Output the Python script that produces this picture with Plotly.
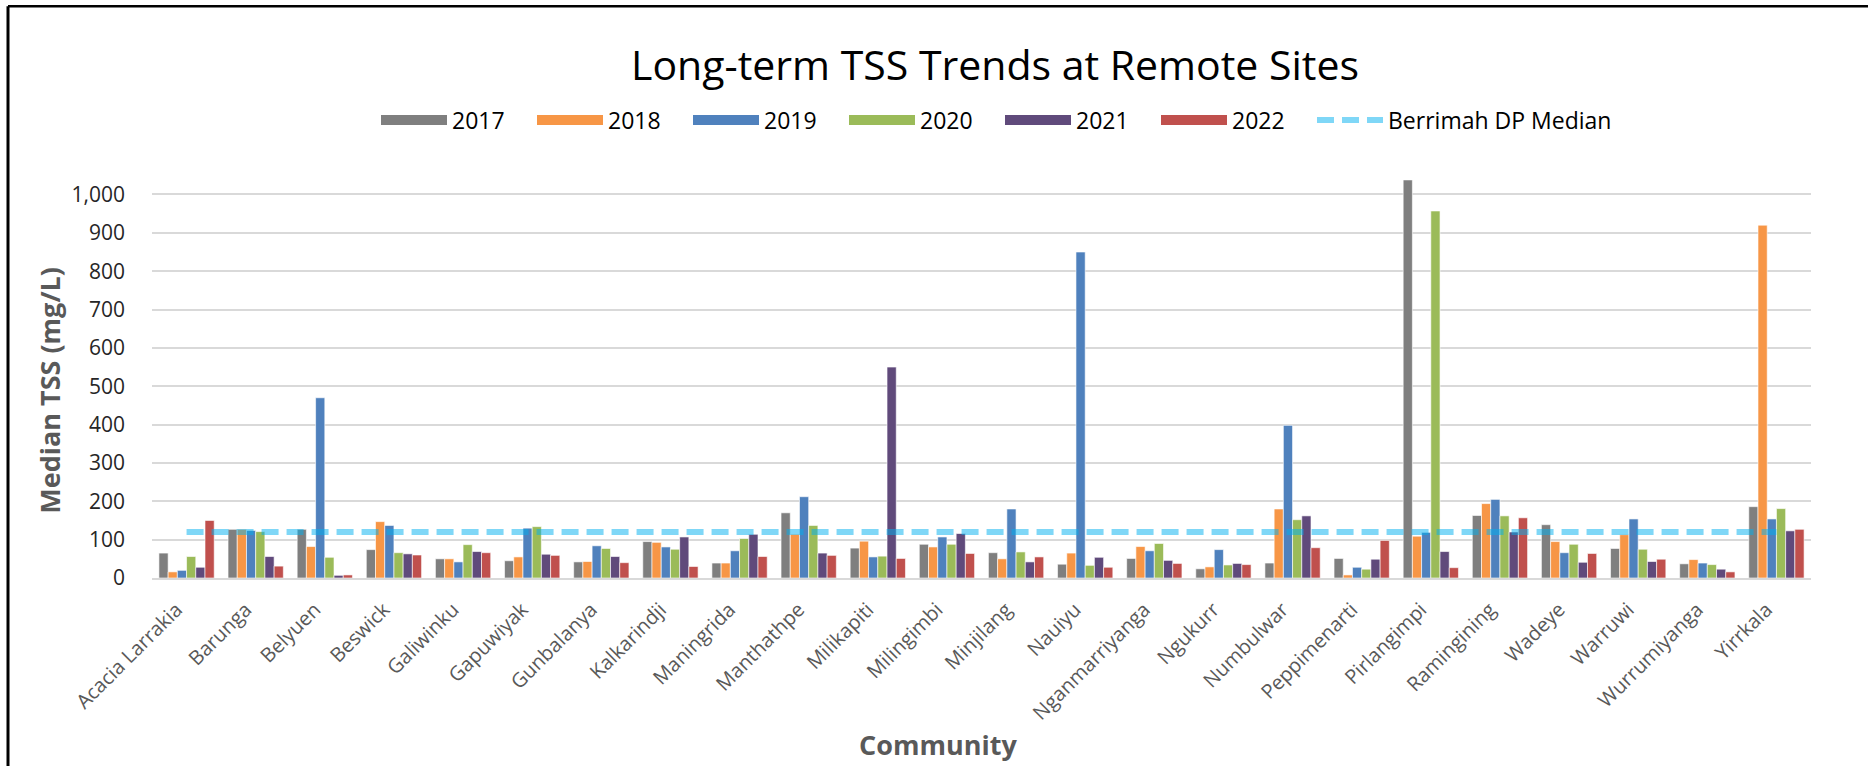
import plotly.graph_objects as go

communities = ["Acacia Larrakia", "Barunga", "Belyuen", "Beswick", "Galiwinku", "Gapuwiyak",
               "Gunbalanya", "Kalkarindji", "Maningrida", "Manthathpe", "Milikapiti", "Milingimbi",
               "Minjilang", "Nauiyu", "Nganmarriyanga", "Ngukurr", "Numbulwar", "Peppimenarti",
               "Pirlangimpi", "Ramingining", "Wadeye", "Warruwi", "Wurrumiyanga", "Yirrkala"]

tss_2017 = [65, 127, 127, 74, 50, 45, 42, 95, 39, 170, 78, 88, 66, 36, 51, 24, 39, 51, 1038, 163, 139, 77, 37, 186]
tss_2018 = [16, 127, 82, 147, 50, 55, 43, 93, 39, 114, 96, 81, 50, 65, 82, 29, 180, 8, 109, 194, 95, 113, 48, 920]
tss_2019 = [20, 124, 470, 137, 42, 130, 84, 81, 71, 212, 55, 107, 180, 850, 71, 74, 398, 28, 119, 205, 66, 154, 39, 154]
tss_2020 = [56, 121, 54, 66, 87, 134, 77, 75, 103, 137, 57, 88, 68, 33, 90, 34, 152, 23, 957, 162, 88, 75, 35, 181]
tss_2021 = [28, 56, 7, 63, 69, 62, 56, 107, 114, 65, 550, 116, 42, 54, 46, 38, 162, 49, 69, 120, 41, 43, 23, 123]
tss_2022 = [150, 31, 8, 60, 66, 59, 40, 30, 56, 59, 51, 64, 55, 28, 38, 35, 79, 98, 27, 157, 64, 49, 16, 127]
berrimah_dp_median = 120

years = ["2017", "2018", "2019", "2020", "2021", "2022"]
series = [tss_2017, tss_2018, tss_2019, tss_2020, tss_2021, tss_2022]
colors = ["#7F7F7F", "#F79646", "#4F81BD", "#9BBB59", "#604A7B", "#C0504D"]

FONT = "Open Sans"

fig = go.Figure()
for name, vals, col in zip(years, series, colors):
    fig.add_trace(go.Bar(x=communities, y=vals, name=name, legendgroup=name, showlegend=False,
                         marker=dict(color=col, line=dict(color="rgba(255,255,255,0.6)", width=1))))
# legend keys: wide rectangular swatches like the original legend
for name, col in zip(years, colors):
    fig.add_trace(go.Scatter(x=[None], y=[None], name=name, legendgroup=name, mode="lines",
                             line=dict(color=col, width=16), hoverinfo="skip"))

fig.add_trace(go.Scatter(x=communities, y=[berrimah_dp_median] * len(communities),
                         name="Berrimah DP Median", mode="lines", legendwidth=240,
                         line=dict(color="rgba(0,176,240,0.5)", width=6, dash="17px,8px")))

L, R, T, B = 152, 57, 177, 187.5
W, H = 1868, 766
pw = W - L - R
ph = H - T - B

def px_x(x):
    return (x - L) / pw

def px_y(y):
    return (H - B - y) / ph

fig.update_layout(
    width=W, height=H,
    margin=dict(l=L, r=R, t=T, b=B, pad=0),
    paper_bgcolor="white", plot_bgcolor="white",
    barmode="group", bargap=0.2, bargroupgap=0,
    font=dict(family=FONT, color="#262626"),
    title=dict(text="Long-term TSS Trends at Remote Sites", x=995 / W, xanchor="center",
               y=1 - 66 / H, yanchor="middle", font=dict(size=41, color="#000000", family=FONT)),
    legend=dict(orientation="h", x=px_x(376), xanchor="left", y=px_y(120), yanchor="middle",
                font=dict(size=23, color="#000000"), entrywidth=75, entrywidthmode="pixels",
                itemwidth=66, traceorder="normal", bgcolor="rgba(0,0,0,0)"),
    showlegend=True,
    xaxis=dict(tickangle=-45, tickfont=dict(size=20, color="#595959"), showgrid=False,
               showline=True, linecolor="#D9D9D9", linewidth=2, ticks="", ticklabelstandoff=10,
               ticklabelshift=-10),
    yaxis=dict(range=[0, 1045.6], tickvals=[0, 100, 200, 300, 400, 500, 600, 700, 800, 900, 1000],
               tickformat=",d", tickfont=dict(size=21, color="#262626"),
               showgrid=True, gridcolor="#D9D9D9", gridwidth=2, zeroline=False,
               showline=False, ticks="", ticklabelstandoff=26),
    annotations=[
        dict(text="<b>Community</b>", xref="paper", yref="paper", x=px_x(938), y=px_y(745),
             xanchor="center", yanchor="middle", showarrow=False,
             font=dict(size=27, color="#595959", family=FONT)),
        dict(text="<b>Median TSS (mg/L)</b>", xref="paper", yref="paper", x=px_x(50), y=px_y(391),
             xanchor="center", yanchor="middle", showarrow=False, textangle=-90,
             font=dict(size=27, color="#595959", family=FONT)),
    ],
    shapes=[
        dict(type="line", xref="paper", yref="paper", x0=px_x(8), x1=px_x(1870), y0=px_y(6), y1=px_y(6),
             line=dict(color="black", width=2.5)),
        dict(type="line", xref="paper", yref="paper", x0=px_x(8), x1=px_x(8), y0=px_y(6), y1=px_y(770),
             line=dict(color="black", width=3)),
    ],
)

fig.write_html("out.html", config={"displayModeBar": False},
               post_script="document.body.style.margin='0';document.body.style.overflow='hidden';")
